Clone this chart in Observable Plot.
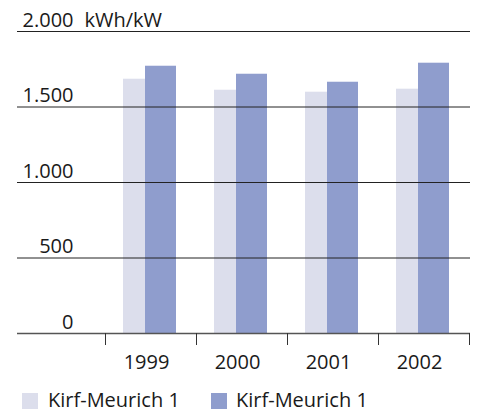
<!DOCTYPE html>
<html><head><meta charset="utf-8">
<script src="https://cdn.jsdelivr.net/npm/d3@7"></script>
<script src="https://cdn.jsdelivr.net/npm/@observablehq/plot@0.6"></script>
<style>
body{margin:0;background:#fff;font-family:"Open Sans",sans-serif;}
#wrap{position:relative;width:478px;height:412px;overflow:hidden}
#wrap svg{position:absolute;left:0;top:0}
.sw{position:absolute;width:16px;height:16px;top:393px}
.lt{position:absolute;top:389.5px;font-size:20px;line-height:20px;color:#1a1a1a;white-space:nowrap}
</style></head><body><div id="wrap"></div>
<script>
const years = ["1999", "2000", "2001", "2002"];
const seriesNames = ["Kirf-Meurich 1", "Kirf-Meurich 1"];
const lightValues = [1684, 1611, 1598, 1618];
const darkValues = [1770, 1717, 1664, 1790];
const yTicks = [0, 500, 1000, 1500, 2000];
const unit = "kWh/kW";
const colors = ["#dcdeec", "#8f9dcd"];

const light = years.map((y, i) => ({year: y, value: lightValues[i]}));
const dark = years.map((y, i) => ({year: y, value: darkValues[i]}));
const fmt = d3.formatLocale({decimal: ",", thousands: ".", grouping: [3], currency: ["", "€"]}).format(",");

const chart = Plot.plot({
  width: 478, height: 380,
  marginTop: 31, marginBottom: 47, marginLeft: 17, marginRight: 8,
  style: {fontFamily: "Open Sans", fontSize: "20px", color: "#1a1a1a", background: "transparent"},
  x: {type: "band", domain: years, range: [105, 469], padding: 0, label: null},
  y: {domain: [0, 2000], axis: null, label: null},
  marks: [
    Plot.barY(light, {x: "year", y: "value", fill: colors[0], insetLeft: 18, insetRight: 42}),
    Plot.barY(dark, {x: "year", y: "value", fill: colors[1], insetLeft: 40, insetRight: 20}),
    Plot.ruleY(yTicks.filter(d => d > 0), {stroke: "#222", strokeWidth: 1}),
    Plot.ruleY([0], {stroke: "#555", strokeWidth: 1.4}),
    Plot.axisX({tickSize: 12, dx: -45.5, tickFormat: () => "", stroke: "#333", label: null}),
    Plot.axisX({ticks: [years[years.length - 1]], tickSize: 12, dx: 45.5, tickFormat: () => "", stroke: "#333", label: null}),
    Plot.text(years, {x: d => d, text: d => d, frameAnchor: "bottom", dy: 35, dx: -4.5, lineAnchor: "bottom", fill: "#1a1a1a"}),
    Plot.text(yTicks, {y: d => d, text: fmt, frameAnchor: "left", dx: 56, dy: -5, textAnchor: "end", lineAnchor: "bottom", fill: "#1a1a1a"}),
    Plot.text([d3.max(yTicks)], {y: d => d, text: () => unit, frameAnchor: "left", dx: 67, dy: -5, textAnchor: "start", lineAnchor: "bottom", fill: "#1a1a1a"})
  ]
});
const wrap = document.getElementById("wrap");
wrap.appendChild(chart);
const legendPos = [{sw: 22, tx: 48}, {sw: 211, tx: 236}];
seriesNames.forEach((name, i) => {
  const s = document.createElement("div");
  s.className = "sw"; s.style.left = legendPos[i].sw + "px"; s.style.background = colors[i];
  const t = document.createElement("div");
  t.className = "lt"; t.style.left = legendPos[i].tx + "px"; t.textContent = name;
  wrap.appendChild(s); wrap.appendChild(t);
});
</script></body></html>
